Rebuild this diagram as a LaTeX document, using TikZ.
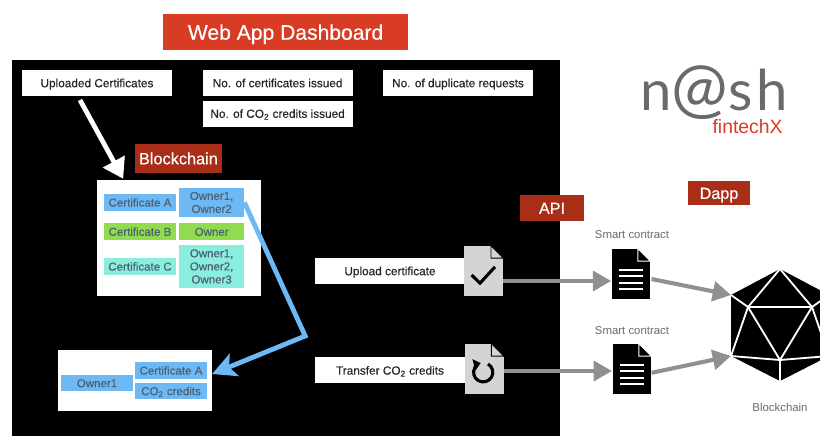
\documentclass[tikz,border=0pt]{standalone}
\usepackage{fontspec}
\setmainfont{Liberation Sans}
\newfontfamily\medfont[FakeBold=0.4]{Liberation Sans}
\newfontfamily\logofont[LetterSpace=6]{Lato}
\usepackage{xcolor}
\usetikzlibrary{arrows.meta}
\definecolor{titlered}{HTML}{D93C25}
\definecolor{brick}{HTML}{A82E18}
\definecolor{certblue}{HTML}{6DB9F5}
\definecolor{certgreen}{HTML}{90DC4E}
\definecolor{certcyan}{HTML}{8AEEDF}
\definecolor{certtext}{HTML}{4F6070}
\definecolor{docgrey}{HTML}{D4D4D4}
\definecolor{flowgrey}{HTML}{909090}
\definecolor{labelgrey}{HTML}{6A6A6A}
\tikzset{
	whitebox/.style={fill=white,minimum width=3.75cm,minimum height=.65cm,inner sep=0pt,text height=6pt,text depth=0pt,font=\fontsize{8.4}{10}\medfont,text=black!85},
	redbox/.style={fill=brick,text=white,inner sep=0pt,text height=8.4pt,text depth=0pt},
	panel/.style={fill=white,inner sep=0pt},
	certblock/.style={inner sep=0pt,align=center,text=certtext,minimum width=1.625cm,font=\fontsize{8.2}{9.3}\medfont},
	cert/.style={inner sep=0pt,text=certtext,minimum width=1.8cm,minimum height=.425cm,text height=6pt,text depth=0pt,font=\fontsize{8.2}{9.3}\medfont},
	greydoc/.style={fill=docgrey,inner sep=0pt,minimum width=.975cm,minimum height=1.25cm},
	blackdoc/.style={fill=black,inner sep=0pt,minimum width=.95cm,minimum height=1.25cm},
	caption/.style={text=labelgrey,inner sep=0pt,font=\fontsize{8.1}{10}\selectfont},
	flow/.style={-{Triangle[length=13pt,width=14pt]},line width=2.9pt,flowgrey},
	edge/.style={white,line width=1.3pt}
}
% corner of a document: #1 node, #2 cut out colour, #3 flap colour
\newcommand{\docfold}[3]{
	\fill[#2] (#1.north east) -- ++(-.32,0) -- ++(.32,-.32) -- cycle;
	\filldraw[fill=#3,draw=#2,line width=.6pt] ([xshift=-.31cm]#1.north east) -- ++(0,-.31) -- ++(.31,0) -- cycle;
}
\begin{document}
\begin{tikzpicture}
	\useasboundingbox (0,0) rectangle (20.5,10.9);
	\fill[black] (.3,0) rectangle (14,9.4);
	\node[fill=titlered,text=white,minimum width=6.125cm,minimum height=.9cm,inner sep=0pt,text height=11pt,text depth=0pt,font=\fontsize{15}{18}\medfont] (title) at (7.14,10.1) {Web App Dashboard};
	% dashboard counters
	\node[whitebox] (uploaded) at (2.425,8.825) {Uploaded Certificates};
	\node[whitebox] (issued) at (6.94,8.825) {No. of certificates issued};
	\node[whitebox] (credits) at (6.94,8.06) {No. of CO\textsubscript{2} credits issued};
	\node[whitebox] (duplicates) at (11.45,8.825) {No. of duplicate requests};
	\node[redbox,minimum width=2.175cm,minimum height=.725cm,font=\fontsize{11.6}{14}\medfont] (chain label) at (4.46,6.94) {Blockchain};
	% ledger
	\node[panel,minimum width=4.1cm,minimum height=2.9cm] (ledger) at (4.475,4.95) {};
	\node[cert,fill=certblue] (cert a) at (3.5,5.84) {Certificate A};
	\node[certblock,fill=certblue,minimum height=.725cm] (owners a) at (5.29,5.84) {Owner1,\\Owner2};
	\node[cert,fill=certgreen] (cert b) at (3.5,5.11) {Certificate B};
	\node[cert,fill=certgreen,minimum width=1.625cm] (owners b) at (5.29,5.11) {Owner};
	\node[cert,fill=certcyan] (cert c) at (3.5,4.24) {Certificate C};
	\node[certblock,fill=certcyan,minimum height=1.075cm] (owners c) at (5.29,4.24) {Owner1,\\Owner2,\\Owner3};
	% wallet
	\node[panel,minimum width=3.85cm,minimum height=1.525cm] (wallet) at (3.375,1.39) {};
	\node[cert,fill=certblue,minimum height=.4cm] (wallet owner) at (2.425,1.325) {Owner1};
	\node[cert,fill=certblue] (wallet cert) at (4.275,1.64) {Certificate A};
	\node[cert,fill=certblue,minimum height=.4cm] (wallet credits) at (4.275,1.125) {CO\textsubscript{2} credits};
	\coordinate (white start) at (2,8.4);
	\coordinate (white end) at (3.08,6.43);
	\coordinate (blue bend) at (7.63,2.5);
	\coordinate (blue tip) at (5.3,1.55);
	\draw[-{Triangle[length=14pt,width=17pt]},line width=3.4pt,white] (white start) -- (white end);
	\draw[-{Stealth[length=17pt,width=17pt,inset=4pt]},line width=3.4pt,certblue,line join=miter] (owners a.east) -- (blue bend) -- (blue tip);
	% API
	\node[whitebox] (upload) at (9.75,4.125) {Upload certificate};
	\node[whitebox] (transfer) at (9.75,1.64) {Transfer CO\textsubscript{2} credits};
	\node[greydoc] (upload doc) at (12.09,4.125) {};
	\node[greydoc] (transfer doc) at (12.1,1.675) {};
	\docfold{upload doc}{black}{docgrey}
	\docfold{transfer doc}{black}{docgrey}
	\draw[line width=2.2pt] (11.79,4.025) -- (12,3.82) -- (12.375,4.23);
	\draw[-{Triangle[length=5pt,width=8pt]},line width=2.2pt] (12.2,1.8) arc[start angle=60,end angle=-255,radius=.24];
	\node[redbox,minimum width=1.6cm,minimum height=.65cm,font=\fontsize{11.5}{14}\medfont] (api) at (13.8,5.7) {API};
	% Dapp
	\node[redbox,minimum width=1.55cm,minimum height=.6cm,font=\fontsize{11.5}{14}\medfont] (dapp) at (17.975,6.075) {Dapp};
	\node[caption] (contract label one) at (15.8,5.025) {Smart contract};
	\node[caption] (contract label two) at (15.8,2.625) {Smart contract};
	\node[blackdoc] (contract one) at (15.775,4.05) {};
	\node[blackdoc] (contract two) at (15.8,1.675) {};
	\docfold{contract one}{white}{black}
	\docfold{contract two}{white}{black}
	\foreach \doc in {contract one,contract two}
		\foreach \dy in {.0,-.16,-.32,-.47}
			\draw[white,line width=1.4pt] ([xshift=-.31cm,yshift=\dy cm+.1cm]\doc.center) -- ++(.62,0);
	% icosahedron
	\begin{scope}
		\clip (0,0) rectangle (20.5,10.9);
		\coordinate (top) at (19.5,4.175);
		\coordinate (upper left) at (18.275,3.525);
		\coordinate (lower left) at (18.275,2);
		\coordinate (bottom) at (19.5,1.375);
		\coordinate (lower right) at (20.725,2);
		\coordinate (upper right) at (20.725,3.525);
		\coordinate (inner left) at (18.7,3.225);
		\coordinate (inner right) at (20.3,3.225);
		\coordinate (inner bottom) at (19.5,1.9);
		\fill[black] (top) -- (upper left) -- (lower left) -- (bottom) -- (lower right) -- (upper right) -- cycle;
		\draw[edge] (inner left) -- (inner right) -- (inner bottom) -- cycle;
		\draw[edge] (upper left) -- (inner left) -- (top) -- (inner right) -- (upper right);
		\draw[edge] (lower left) -- (inner left);
		\draw[edge] (lower right) -- (inner right);
		\draw[edge] (lower left) -- (inner bottom) -- (lower right);
		\draw[edge] (inner bottom) -- (bottom);
	\end{scope}
	\node[caption] (chain caption) at (19.5,.72) {Blockchain};
	% flows
	\coordinate (upload out) at (12.58,3.875);
	\coordinate (transfer out) at (12.6,1.625);
	\coordinate (contract one in) at (15.28,3.875);
	\coordinate (contract two in) at (15.3,1.625);
	\coordinate (contract one out) at (16.29,3.925);
	\coordinate (contract two out) at (16.29,1.58);
	\draw[flow] (upload out) -- (contract one in);
	\draw[flow] (transfer out) -- (contract two in);
	\draw[flow] (contract one out) -- (upper left);
	\draw[flow] (contract two out) -- (lower left);
	% logo
	\node[inner sep=0pt,text=labelgrey,anchor=base,font=\fontsize{40}{44}\logofont] (logo) at (17.85,8.15) {n{\fontsize{48}{50}\selectfont\raisebox{-1pt}[\height][0pt]{@}}sh};
	\node[inner sep=0pt,text=titlered,anchor=base,font=\fontsize{13.8}{14}\selectfont] (fintech) at (18.69,7.575) {fintechX};
\end{tikzpicture}
\end{document}
